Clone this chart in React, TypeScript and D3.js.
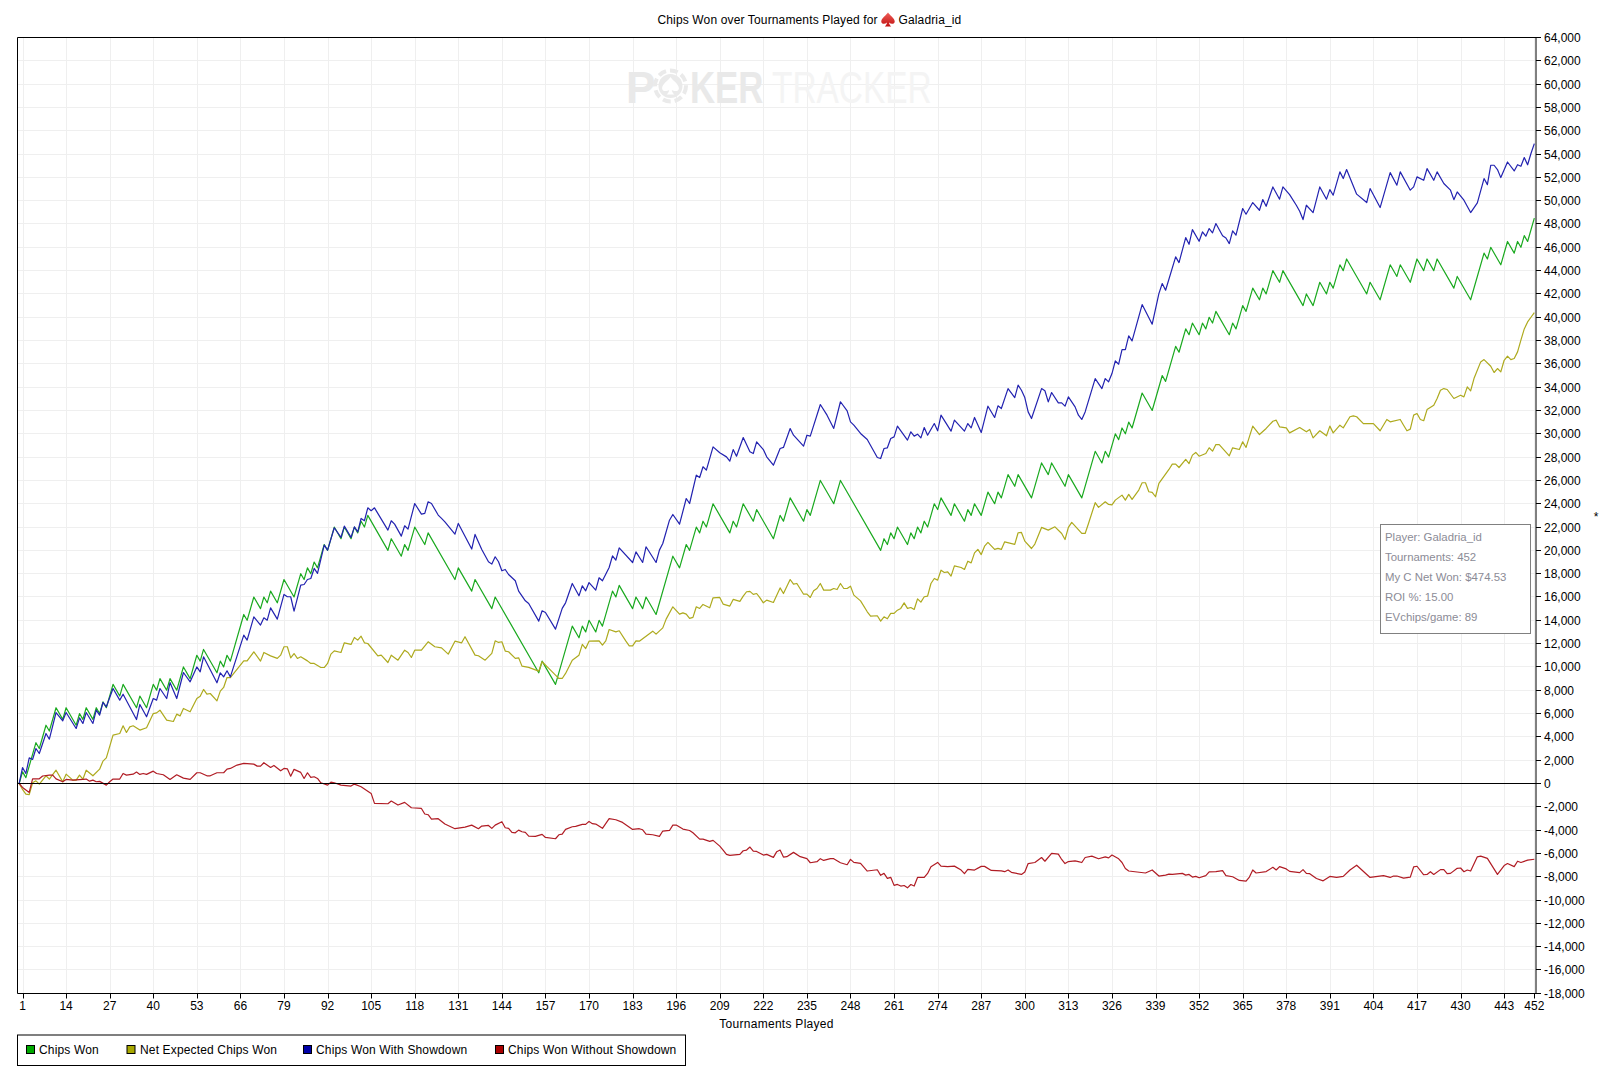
import * as d3 from 'd3';

type Pt = [number, number];

// turning points: [tournament, chips]
const chipsWon: Pt[] = [
  [0, 0], [1, 1000], [2, 500], [5, 3500], [6, 3000], [8, 5000], [9, 4500], [11, 6500], [13, 5500], [14, 6500],
  [17, 5000], [18, 6000], [19, 5500], [20, 6500], [22, 5500], [23, 6500], [24, 6000], [25, 7000], [26, 6500], [28, 8500],
  [30, 7500], [31, 8500], [35, 6500], [36, 7500], [38, 6500], [40, 8500], [41, 8000], [42, 9000], [44, 8000], [45, 9000],
  [47, 8000], [49, 10000], [51, 9000], [53, 11000], [54, 10500], [55, 11500], [59, 9500], [60, 10500], [61, 10000], [62, 11000],
  [63, 10500], [67, 14500], [68, 14000], [70, 16000], [72, 15000], [73, 16000], [74, 15500], [75, 16500], [77, 15500], [79, 17500],
  [82, 16000], [84, 18000], [85, 17500], [86, 18500], [87, 18000], [88, 19000], [89, 18500], [91, 20500], [92, 20000], [94, 22000],
  [96, 21000], [97, 22000], [99, 21000], [100, 22000], [101, 21500], [102, 22500], [103, 22000], [104, 23000], [110, 20000], [111, 21000],
  [114, 19500], [115, 20500], [116, 20000], [118, 22000], [121, 20500], [122, 21500], [130, 17500], [131, 18500], [135, 16500], [136, 17500],
  [141, 15000], [142, 16000], [155, 9500], [156, 10500], [160, 8500], [165, 13500], [167, 12500], [168, 13500], [169, 13000], [170, 14000],
  [172, 13000], [173, 14000], [174, 13500], [177, 16500], [178, 16000], [179, 17000], [183, 15000], [184, 16000], [186, 15000], [187, 16000],
  [190, 14500], [195, 19500], [197, 18500], [199, 20500], [200, 20000], [202, 22000], [203, 21500], [204, 22500], [205, 22000], [207, 24000],
  [212, 21500], [213, 22500], [214, 22000], [216, 24000], [219, 22500], [220, 23500], [225, 21000], [227, 23000], [228, 22500], [230, 24500],
  [234, 22500], [235, 23500], [236, 23000], [239, 26000], [243, 24000], [245, 26000], [257, 20000], [258, 21000], [259, 20500], [260, 21500],
  [261, 21000], [262, 22000], [265, 20500], [266, 21500], [267, 21000], [268, 22000], [269, 21500], [270, 22500], [271, 22000], [273, 24000],
  [274, 23500], [275, 24500], [278, 23000], [279, 24000], [282, 22500], [283, 23500], [284, 23000], [285, 24000], [287, 23000], [289, 25000],
  [291, 24000], [292, 25000], [293, 24500], [295, 26500], [297, 25500], [298, 26500], [302, 24500], [305, 27500], [307, 26500], [308, 27500],
  [312, 25500], [313, 26500], [317, 24500], [321, 28500], [323, 27500], [324, 28500], [325, 28000], [327, 30000], [328, 29500], [329, 30500],
  [330, 30000], [331, 31000], [332, 30500], [335, 33500], [338, 32000], [341, 35000], [342, 34500], [345, 37500], [346, 37000], [348, 39000],
  [349, 38500], [350, 39500], [352, 38500], [353, 39500], [354, 39000], [355, 40000], [356, 39500], [357, 40500], [361, 38500], [362, 39500],
  [363, 39000], [365, 41000], [366, 40500], [368, 42500], [370, 41500], [371, 42500], [372, 42000], [374, 44000], [376, 43000], [377, 44000],
  [383, 41000], [384, 42000], [386, 41000], [388, 43000], [390, 42000], [391, 43000], [392, 42500], [394, 44500], [395, 44000], [396, 45000],
  [402, 42000], [403, 43000], [406, 41500], [409, 44500], [411, 43500], [412, 44500], [415, 43000], [417, 45000], [419, 44000], [420, 45000],
  [422, 44000], [423, 45000], [428, 42500], [429, 43500], [433, 41500], [437, 45500], [438, 45000], [439, 46000], [442, 44500], [444, 46500],
  [446, 45500], [447, 46500], [448, 46000], [449, 47000], [450, 46500], [452, 48500],
];

const netExpected: Pt[] = [
  [0, 0], [1, -510], [2, -920], [3, -950], [4, 60], [5, 230], [6, -60], [8, 660], [9, 370], [11, 1140],
  [13, 140], [14, 800], [16, 290], [17, 290], [18, 720], [19, 370], [20, 1140], [22, 660], [24, 1230], [25, 1920],
  [26, 2200], [28, 4150], [30, 4290], [31, 4950], [32, 4380], [33, 4860], [34, 4950], [36, 4580], [38, 4780], [40, 6000],
  [41, 6060], [42, 6290], [44, 5430], [46, 5320], [47, 5950], [48, 5800], [49, 6440], [51, 6150], [53, 7290], [54, 7490],
  [55, 8070], [56, 7660], [57, 7720], [59, 7090], [60, 7920], [61, 8240], [62, 9090], [63, 9090], [67, 10520], [68, 10520],
  [70, 11300], [72, 10500], [73, 11240], [75, 10950], [77, 10730], [78, 11010], [79, 11730], [80, 11730], [81, 10780], [82, 11150],
  [83, 10730], [84, 10870], [86, 10520], [87, 10300], [88, 10300], [90, 9950], [91, 9950], [92, 10300], [93, 11100], [94, 11380],
  [96, 11240], [97, 12070], [99, 11930], [100, 12530], [101, 12300], [102, 12640], [103, 12070], [104, 12010], [107, 10950], [108, 11010],
  [110, 10380], [111, 11010], [113, 10580], [115, 11440], [116, 11240], [117, 10810], [118, 11440], [120, 11440], [122, 12160], [124, 11730],
  [126, 11640], [128, 11100], [130, 12210], [132, 12070], [133, 12590], [136, 11010], [137, 10960], [139, 10580], [141, 11160], [142, 12240],
  [143, 12100], [144, 12160], [145, 11360], [146, 11300], [148, 10730], [149, 10780], [150, 10070], [152, 9960], [155, 9640], [156, 10440],
  [158, 9870], [160, 9300], [161, 9010], [162, 9010], [163, 9440], [165, 10580], [167, 11010], [168, 11930], [169, 11580], [170, 12210],
  [173, 12240], [174, 11870], [175, 12240], [176, 13210], [178, 13010], [179, 13100], [181, 12210], [182, 11810], [183, 11810], [184, 12240],
  [185, 12210], [189, 13070], [190, 12810], [192, 13350], [193, 14100], [195, 15160], [197, 14530], [198, 14640], [199, 14530], [200, 14160],
  [201, 14250], [202, 15160], [203, 15020], [204, 15360], [206, 15070], [207, 15930], [209, 15960], [210, 15390], [212, 15220], [213, 15790],
  [215, 15620], [216, 16070], [217, 16450], [218, 16480], [219, 16220], [220, 16300], [221, 15930], [222, 15500], [223, 15730], [225, 15530],
  [227, 16780], [228, 16300], [230, 17500], [231, 17100], [232, 17160], [234, 16240], [235, 16240], [236, 15960], [237, 16530], [238, 16730],
  [239, 17160], [240, 16590], [242, 16590], [243, 16730], [244, 16640], [245, 17160], [246, 16730], [247, 16730], [248, 16930], [249, 16160],
  [251, 15670], [253, 14730], [254, 14360], [256, 14390], [257, 13930], [258, 14300], [259, 14130], [260, 14590], [261, 14590], [262, 14870],
  [263, 15020], [264, 15500], [265, 15020], [266, 15100], [267, 14930], [268, 15840], [269, 15560], [270, 16020], [271, 16070], [272, 17160],
  [273, 17590], [274, 17450], [275, 18300], [276, 18100], [277, 18160], [278, 17790], [279, 18670], [281, 18530], [282, 18360], [283, 19070],
  [284, 18930], [285, 19790], [286, 20080], [287, 19640], [288, 20360], [289, 20680], [291, 20080], [292, 20170], [293, 20080], [294, 20730],
  [297, 20510], [298, 21510], [299, 21540], [300, 20790], [302, 20160], [303, 20540], [305, 21970], [307, 21740], [309, 22020], [311, 21450],
  [312, 20930], [313, 21970], [314, 22400], [317, 21450], [318, 21450], [319, 22310], [321, 24090], [322, 23690], [324, 24170], [325, 23940],
  [326, 23910], [327, 24310], [329, 24740], [330, 24310], [331, 24800], [332, 24370], [334, 25170], [335, 25800], [336, 25800], [337, 25030],
  [338, 24970], [339, 24600], [340, 25740], [343, 26940], [344, 27400], [345, 27400], [346, 27110], [348, 27800], [349, 27450], [350, 28170],
  [351, 28400], [352, 28080], [354, 28310], [355, 28800], [356, 28510], [357, 29080], [358, 29080], [361, 28110], [362, 28800], [364, 28650],
  [365, 29310], [366, 28830], [368, 30660], [370, 29940], [372, 30460], [374, 31080], [375, 31170], [376, 30600], [378, 30510], [379, 30080],
  [382, 30540], [384, 30170], [385, 30370], [386, 29650], [388, 30260], [390, 29830], [391, 30660], [392, 30080], [394, 30740], [395, 30510],
  [397, 31460], [398, 31540], [399, 31460], [401, 30880], [403, 30880], [404, 30880], [406, 30260], [408, 31230], [409, 31030], [412, 31230],
  [413, 30740], [414, 30260], [415, 30400], [416, 31600], [417, 31740], [418, 31230], [419, 31120], [420, 32080], [422, 32450], [423, 33030],
  [424, 33740], [425, 33880], [426, 33800], [428, 33030], [430, 33310], [431, 33170], [432, 34030], [433, 33690], [434, 34740], [436, 36170],
  [437, 36370], [439, 35800], [440, 35260], [441, 35600], [442, 35310], [443, 36310], [444, 36660], [445, 36370], [446, 36460], [447, 37030],
  [448, 38030], [449, 39000], [450, 39600], [451, 40000], [452, 40400],
];

const wonWithShowdown: Pt[] = [
  [0, 0], [1, 1370], [2, 860], [3, 2200], [4, 2060], [5, 3000], [6, 2570], [8, 4290], [9, 3800], [11, 6090],
  [13, 5380], [14, 6090], [17, 4720], [18, 5630], [19, 5150], [20, 6090], [22, 5150], [23, 6290], [24, 5860], [25, 6950],
  [26, 6580], [28, 8150], [30, 7150], [31, 7660], [35, 5490], [36, 6780], [38, 5720], [40, 7290], [41, 7150], [42, 8150],
  [44, 7290], [45, 8660], [47, 7290], [49, 9520], [51, 8720], [53, 10000], [54, 9580], [55, 10870], [59, 8640], [60, 9500],
  [61, 9150], [62, 9670], [63, 9150], [67, 12730], [68, 12300], [70, 14300], [72, 13590], [73, 14210], [74, 14010], [75, 15070],
  [77, 14100], [79, 16220], [80, 16020], [81, 16020], [82, 14790], [84, 17020], [85, 17070], [86, 17500], [87, 17590], [88, 18450],
  [89, 18020], [91, 20450], [92, 20020], [94, 21940], [96, 21110], [97, 22080], [99, 21110], [100, 22020], [101, 21590], [102, 22740],
  [103, 22540], [104, 23650], [105, 23400], [106, 23650], [110, 21740], [111, 22540], [112, 22250], [114, 21220], [115, 22110], [116, 21820],
  [118, 24020], [120, 23110], [121, 23170], [122, 24170], [123, 24020], [125, 23030], [126, 22740], [127, 22450], [130, 21390], [131, 22310],
  [135, 20110], [136, 21370], [138, 20080], [140, 19020], [141, 18820], [142, 19450], [143, 19020], [144, 18250], [145, 18360], [146, 17930],
  [148, 17390], [149, 16500], [151, 15670], [152, 15440], [155, 13930], [156, 14820], [157, 14670], [160, 13240], [162, 15020], [163, 15500],
  [165, 17160], [167, 16100], [168, 16960], [169, 16530], [170, 17240], [172, 16590], [173, 17650], [174, 17390], [176, 18530], [177, 19530],
  [178, 19160], [179, 20220], [183, 18960], [184, 19870], [186, 18960], [187, 20310], [190, 18960], [191, 20020], [192, 20590], [194, 22590],
  [195, 23080], [197, 22250], [199, 24450], [200, 24020], [202, 26450], [203, 26250], [204, 27170], [205, 26880], [207, 28880], [209, 28370],
  [211, 28020], [212, 27650], [213, 28650], [214, 28080], [216, 29680], [218, 28460], [219, 28310], [220, 29310], [222, 28650], [223, 28030],
  [225, 27310], [227, 28740], [228, 28830], [230, 30450], [231, 29880], [234, 28940], [235, 29880], [236, 29800], [239, 32510], [241, 31600],
  [243, 30460], [245, 32750], [247, 31970], [248, 31030], [249, 30740], [251, 30030], [253, 29510], [256, 27970], [257, 27880], [258, 28740],
  [259, 28800], [260, 29600], [261, 29740], [262, 30660], [265, 29460], [266, 30170], [267, 29800], [268, 29970], [269, 29650], [270, 30540],
  [271, 29880], [273, 30880], [274, 30260], [275, 31600], [278, 30230], [279, 31170], [282, 30230], [283, 30880], [284, 30510], [285, 31400],
  [287, 30110], [289, 32370], [291, 31400], [292, 32400], [293, 32170], [295, 33880], [297, 33110], [298, 34170], [299, 33740], [300, 33110],
  [301, 31880], [302, 31310], [305, 33880], [306, 33690], [307, 32740], [308, 33540], [310, 32650], [311, 32650], [312, 32370], [313, 33170],
  [315, 32310], [316, 31600], [317, 31230], [318, 31880], [321, 34740], [323, 33880], [324, 34740], [325, 34460], [326, 35170], [327, 36260],
  [328, 35970], [329, 37230], [330, 37230], [331, 38400], [332, 37970], [335, 41090], [338, 39400], [340, 42030], [341, 42890], [342, 42320],
  [345, 45180], [346, 44690], [348, 46830], [349, 46260], [350, 47520], [352, 46520], [353, 47320], [354, 46950], [355, 47610], [356, 47240],
  [357, 48040], [359, 46990], [360, 46800], [361, 46320], [362, 47410], [363, 47040], [365, 49330], [366, 48840], [368, 49840], [370, 49180],
  [371, 50100], [372, 49520], [374, 51180], [376, 50130], [377, 51180], [379, 50520], [381, 49610], [382, 49100], [383, 48380], [384, 49610],
  [386, 48980], [388, 51180], [390, 50130], [391, 50950], [392, 50470], [394, 52470], [395, 51900], [396, 52670], [399, 50560], [402, 49840],
  [403, 51040], [406, 49410], [409, 52410], [411, 51330], [412, 52470], [415, 50900], [416, 51180], [417, 52040], [419, 51750], [420, 52750],
  [422, 51750], [423, 52470], [425, 51470], [427, 50900], [428, 50090], [429, 50750], [431, 50040], [433, 48980], [435, 49810], [437, 51900],
  [438, 51380], [439, 53040], [440, 53040], [441, 52670], [442, 51980], [444, 53320], [446, 52550], [447, 53090], [448, 52950], [449, 53700],
  [450, 53080], [451, 54050], [452, 54900],
];

const wonWithoutShowdown: Pt[] = [
  [0, 0], [1, -340], [3, -770], [4, 400], [6, 400], [7, 640], [9, 720], [10, 720], [11, 400], [13, 150],
  [14, 350], [16, 290], [20, 380], [21, 200], [22, 290], [23, 150], [24, 180], [26, -140], [27, 150], [28, 380],
  [30, 380], [31, 860], [32, 720], [34, 800], [35, 980], [36, 780], [37, 860], [38, 780], [40, 1060], [41, 860],
  [43, 750], [45, 350], [47, 750], [49, 460], [51, 350], [53, 920], [54, 920], [56, 660], [57, 660], [59, 920],
  [61, 920], [62, 1240], [63, 1290], [65, 1580], [67, 1720], [70, 1660], [71, 1490], [72, 1490], [73, 1780], [75, 1380],
  [76, 1550], [78, 1090], [79, 1290], [80, 1260], [81, 630], [82, 1210], [84, 950], [85, 430], [86, 920], [87, 520],
  [88, 580], [89, 430], [90, 60], [92, -140], [93, 120], [94, 60], [96, -140], [99, -220], [100, -50], [102, -280],
  [105, -850], [106, -1710], [110, -1740], [111, -1510], [113, -1850], [115, -1620], [117, -2080], [120, -2140], [121, -2620], [122, -2680],
  [123, -3050], [125, -3020], [127, -3480], [130, -3880], [133, -3740], [135, -3570], [137, -3880], [138, -3650], [140, -3600], [141, -3850],
  [142, -3570], [144, -3280], [145, -3800], [146, -3850], [147, -4200], [148, -4230], [149, -4000], [150, -4140], [151, -4200], [152, -4510],
  [154, -4540], [156, -4370], [157, -4630], [160, -4740], [161, -4400], [162, -4340], [163, -3940], [165, -3710], [166, -3680], [168, -3510],
  [169, -3510], [170, -3250], [171, -3450], [172, -3480], [174, -3850], [176, -3020], [178, -3110], [180, -3340], [183, -3940], [185, -3880],
  [186, -3970], [187, -4340], [189, -4400], [191, -4540], [192, -4080], [194, -4030], [195, -3570], [196, -3570], [198, -3910], [200, -4030],
  [201, -4230], [203, -4770], [204, -4770], [206, -4970], [207, -4880], [209, -5370], [210, -5710], [211, -6080], [212, -6170], [215, -6080],
  [216, -5770], [217, -5710], [218, -5450], [219, -5800], [220, -5830], [222, -6140], [223, -6080], [225, -6340], [226, -5850], [227, -5710],
  [228, -6310], [229, -6280], [231, -5910], [233, -6280], [235, -6450], [236, -6800], [238, -6710], [239, -6450], [240, -6600], [242, -6450],
  [243, -6450], [245, -6800], [247, -6970], [248, -6510], [249, -6770], [251, -6860], [253, -7510], [256, -7400], [257, -7880], [258, -7710],
  [259, -8140], [260, -8050], [261, -8740], [262, -8660], [263, -8800], [264, -8750], [265, -8950], [266, -8670], [267, -8800], [268, -8060],
  [270, -8060], [271, -7720], [272, -7140], [274, -6770], [275, -7090], [277, -7140], [279, -7090], [281, -7430], [282, -7740], [283, -7370],
  [285, -7430], [287, -7110], [288, -7110], [290, -7460], [293, -7500], [294, -7565], [295, -7420], [296, -7620], [299, -7800], [300, -7590],
  [301, -6870], [303, -6780], [305, -6350], [306, -6670], [308, -6000], [310, -6060], [311, -6520], [312, -6870], [313, -6700], [315, -6640],
  [316, -6700], [317, -6780], [318, -6350], [320, -6230], [322, -6460], [324, -6290], [325, -6380], [326, -6140], [328, -6460], [329, -6780],
  [330, -7300], [331, -7510], [336, -7680], [338, -7420], [340, -7940], [342, -7860], [343, -7770], [344, -7800], [347, -7710], [348, -7860],
  [349, -7800], [350, -8030], [351, -7970], [352, -8090], [354, -7910], [355, -7590], [357, -7560], [359, -7480], [360, -7910], [362, -8000],
  [364, -8320], [366, -8380], [367, -8030], [368, -7420], [369, -7680], [372, -7560], [374, -7190], [375, -7420], [376, -7130], [378, -7330],
  [379, -7540], [382, -7650], [383, -7390], [384, -7710], [385, -7740], [387, -8150], [389, -8350], [391, -7970], [393, -8060], [395, -7970],
  [397, -7420], [399, -7010], [403, -8060], [407, -7910], [409, -8060], [410, -7940], [411, -7940], [413, -8120], [415, -8030], [416, -7160],
  [417, -7100], [419, -7830], [420, -7800], [421, -7570], [422, -7800], [424, -7390], [425, -7390], [426, -7740], [427, -7710], [429, -7280],
  [430, -7250], [431, -7570], [432, -7420], [433, -7510], [435, -6290], [436, -6230], [438, -6430], [441, -7800], [443, -7040], [444, -6870],
  [446, -7130], [447, -6670], [448, -6780], [450, -6580], [452, -6500],
];

const xTicks = [1, 14, 27, 40, 53, 66, 79, 92, 105, 118, 131, 144, 157, 170, 183, 196, 209, 222, 235, 248, 261, 274, 287, 300, 313, 326, 339, 352, 365, 378, 391, 404, 417, 430, 443, 452];
const yTicks = d3.range(-18000, 64001, 2000);
const infoLines = ['Player: Galadria_id', 'Tournaments: 452', 'My C Net Won: $474.53', 'ROI %: 15.00', 'EVchips/game: 89'];

const series = [
  { name: 'Chips Won', data: chipsWon, line: '#1aa91f', swatch: '#00a800', legendX: 26.5, textX: 39 },
  { name: 'Net Expected Chips Won', data: netExpected, line: '#aeaa1e', swatch: '#a8a800', legendX: 127, textX: 140 },
  { name: 'Chips Won With Showdown', data: wonWithShowdown, line: '#2222b0', swatch: '#0000a8', legendX: 303.5, textX: 316 },
  { name: 'Chips Won Without Showdown', data: wonWithoutShowdown, line: '#b01c24', swatch: '#a80000', legendX: 495.5, textX: 508 },
];

const left = 17.5;
const right = 1536;
const top = 37.5;
const bottom = 993.5;
const font = '"Liberation Sans", Arial, sans-serif';
const spade = 'M0,-6.5 C1.5,-4 6,-1.5 6,1.6 C6,3.8 3,4.4 0.9,2.6 C1,4 1.6,5 2.8,6 L-2.8,6 C-1.6,5 -1,4 -0.9,2.6 C-3,4.4 -6,3.8 -6,1.6 C-6,-1.5 -1.5,-4 0,-6.5 Z';

const x = d3.scaleLinear().domain([-0.5, 452.5]).range([left, right]);
const y = d3.scaleLinear().domain([-18000, 64000]).range([bottom - 0.2, top]);
const fmt = d3.formatLocale({ decimal: '.', thousands: ',', grouping: [3], currency: ['$', ''], minus: '-' }).format(',');
const line = d3
  .line<Pt>()
  .x((d) => x(d[0]))
  .y((d) => y(d[1]));
const rowY = (v: number) => Math.floor(y(v)) + 0.5;
const colX = (t: number) => Math.round(x(t)) + 0.5;

export default function App(): React.ReactNode {
  return (
    <svg width={1599} height={1080} style={{ position: 'absolute', left: 0, top: 0 }} fontFamily={font} fontSize={12}>
      <defs>
        <linearGradient id="spadeFill" x1="0" y1="0" x2="0" y2="1">
          <stop offset="0" stopColor="#f0605a" />
          <stop offset="1" stopColor="#c01010" />
        </linearGradient>
      </defs>
      <rect width={1599} height={1080} fill="#fff" />

      {/* grid */}
      {yTicks.map((v) => (
        <line key={v} x1={left} x2={right} y1={rowY(v)} y2={rowY(v)} stroke="#efefef" />
      ))}
      {xTicks.map((t) => (
        <line key={t} x1={colX(t)} x2={colX(t)} y1={top} y2={bottom} stroke="#efefef" />
      ))}

      {/* watermark */}
      <g fontWeight="bold" fontSize={44}>
        <text transform="translate(626,102.5)" fill="#e9e9e9">P</text>
        <text transform="translate(690,102.5) scale(0.79,1)" fill="#e9e9e9">KER</text>
        <text transform="translate(772,102.5) scale(0.76,1)" fill="#f4f4f4" fontWeight="normal">TRACKER</text>
        <circle cx={670.5} cy={86} r={15.5} fill="none" stroke="#eaeaea" strokeWidth={4} strokeDasharray="8 4" />
        <circle cx={670.5} cy={86} r={12} fill="#eaeaea" />
        <path d={spade} transform="translate(670.5,86) scale(1.4)" fill="#fff" />
      </g>

      {/* series */}
      {series.map((s) => (
        <path key={s.name} d={line(s.data) ?? ''} fill="none" stroke={s.line} strokeWidth={1.2} strokeLinejoin="round" />
      ))}

      {/* zero line and frame */}
      <line x1={left} x2={right} y1={rowY(0)} y2={rowY(0)} stroke="#000" />
      <path d={`M${left},${bottom}V${top}H${right}V${bottom}H${left}`} fill="none" stroke="#000" />

      {/* axes */}
      {yTicks.map((v) => (
        <g key={v}>
          <line x1={right} x2={right + 5} y1={rowY(v)} y2={rowY(v)} stroke="#000" />
          <text x={1544} y={y(v) + 4.5} fill="#000">{fmt(v)}</text>
        </g>
      ))}
      {xTicks.map((t) => (
        <g key={t}>
          <line x1={colX(t)} x2={colX(t)} y1={bottom} y2={bottom + 5} stroke="#000" />
          <text x={x(t)} y={1010} textAnchor="middle" fill="#000">{t}</text>
        </g>
      ))}
      <text x={776.5} y={1027.5} textAnchor="middle" fill="#000" letterSpacing={0.28}>Tournaments Played</text>

      {/* title */}
      <text x={657.5} y={24} fill="#000" letterSpacing={0.14}>Chips Won over Tournaments Played for</text>
      <path d={spade} transform="translate(888,19.7) scale(1.12)" fill="url(#spadeFill)" />
      <text x={898.5} y={24} fill="#000" letterSpacing={0.14}>Galadria_id</text>

      {/* info box */}
      <rect x={1380.5} y={524.5} width={150} height={109} fill="#fff" stroke="#808080" />
      {infoLines.map((l, i) => (
        <text key={l} x={1385} y={541 + i * 20} fill="#8b8b96" fontSize={11.4}>{l}</text>
      ))}
      <text x={1596} y={521} textAnchor="middle" fill="#000">*</text>

      {/* legend */}
      <rect x={17.5} y={1035} width={668} height={30.5} fill="#fff" stroke="#000" />
      {series.map((s) => (
        <g key={s.name}>
          <rect x={s.legendX} y={1045.5} width={8} height={8} fill={s.swatch} stroke="#000" />
          <text x={s.textX} y={1053.5} fill="#000" letterSpacing={0.15}>{s.name}</text>
        </g>
      ))}
    </svg>
  );
}
